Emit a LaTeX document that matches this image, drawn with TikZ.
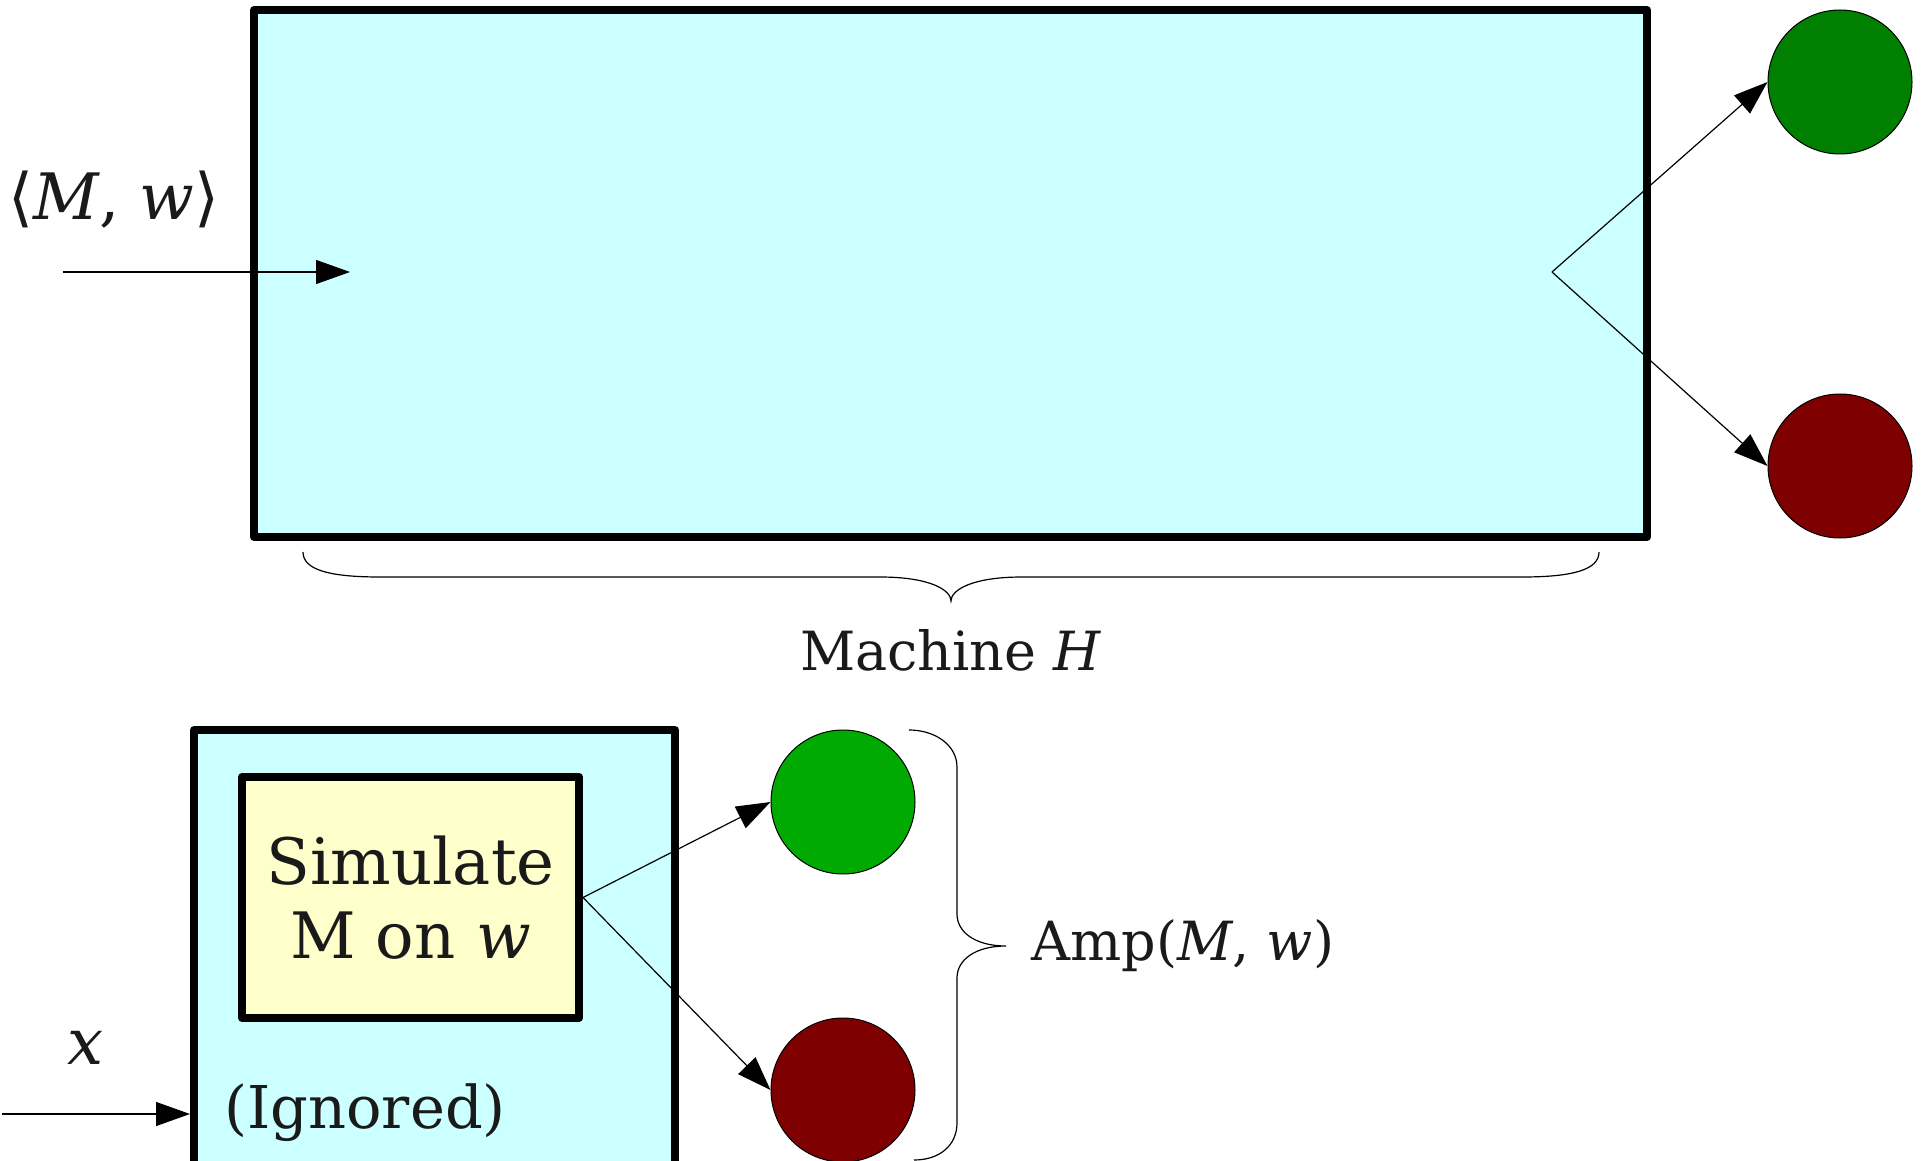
\documentclass[tikz,border=0pt]{standalone}
\usepackage{fontspec}
\setmainfont{DejaVu Serif}
\usetikzlibrary{arrows.meta}
\definecolor{boxcyan}{HTML}{CCFFFF}
\definecolor{boxyellow}{HTML}{FFFFCC}
\definecolor{dkgreen}{HTML}{007F00}
\definecolor{ltgreen}{HTML}{00AA00}
\definecolor{dkred}{HTML}{7F0000}
\definecolor{txt}{HTML}{1A1A1A}
\tikzset{
  thickbox/.style={draw=black, line width=4pt, line join=round, inner sep=0pt},
  dot/.style={circle, draw=black, line width=0.5pt, minimum size=72pt, inner sep=0pt},
  conn/.style={draw=black, line width=0.6pt, -{Triangle[length=17pt,width=12pt]}},
  bracepath/.style={draw=black, line width=0.6pt},
  lbl/.style={text=txt, inner sep=0pt},
}
\begin{document}
\begin{tikzpicture}[x=0.5pt,y=-0.5pt]
\useasboundingbox (0,0) rectangle (1924,1161);
\clip (0,0) rectangle (1924,1161);
% top machine
\node[thickbox, fill=boxcyan, minimum width=696.5pt, minimum height=263.5pt] (H) at (950.5,273.5) {};
\node[dot, fill=dkgreen] (g1) at (1840,82) {};
\node[dot, fill=dkred] (r1) at (1840,466) {};
\coordinate (in1) at (63,272);
\coordinate (tip1) at (350,272);
\coordinate (v) at (1552,272);
\draw[conn] (in1) -- (tip1);
\draw[conn] (v) -- (g1.west);
\draw[conn] (v) -- (r1.west);
\node[lbl, font=\fontsize{32pt}{38pt}\selectfont] (mw) at (114,200) {⟨\textit{M}, \textit{w}⟩};
% brace under top box
\draw[bracepath] (303,552) .. controls (303,570) and (330,577) .. (380,577) -- (880,577)
  .. controls (930,577) and (951,590) .. (951,601)
  .. controls (951,590) and (972,577) .. (1022,577) -- (1522,577)
  .. controls (1572,577) and (1599,570) .. (1599,552);
\node[lbl, font=\fontsize{27pt}{33pt}\selectfont] (mh) at (951,650) {Machine \textit{H}};
% bottom machine
\node[thickbox, fill=boxcyan, minimum width=240.5pt, minimum height=235pt] (A) at (434.5,965) {};
\node[thickbox, fill=boxyellow, minimum width=168.5pt, minimum height=120.5pt, align=center,
  text=txt, font=\fontsize{32pt}{37pt}\selectfont] (sim) at (410.5,897.5) {Simulate\\M on \textit{w}};
\node[lbl, anchor=west, font=\fontsize{29.5pt}{36pt}\selectfont] (ign) at (224,1113) {(Ignored)};
\node[dot, fill=ltgreen] (g2) at (843,802) {};
\node[dot, fill=dkred] (r2) at (843,1090) {};
\draw[conn] (sim.east) -- (g2.west);
\draw[conn] (sim.east) -- (r2.west);
\coordinate (in2) at (2,1114);
\draw[conn] (in2) -- (A.west |- in2);
\node[lbl, font=\fontsize{32pt}{38pt}\selectfont\itshape] (x) at (86,1048) {x};
% right brace
\draw[bracepath] (909,730) .. controls (935,730) and (957,745) .. (957,767) -- (957,914)
  .. controls (957,932) and (975,946) .. (1006,946)
  .. controls (975,946) and (957,960) .. (957,978) -- (957,1123)
  .. controls (957,1145) and (940,1160) .. (914,1160);
\node[lbl, anchor=west, font=\fontsize{27pt}{33pt}\selectfont] (amp) at (1031,946) {Amp(\textit{M}, \textit{w})};
\end{tikzpicture}
\end{document}
